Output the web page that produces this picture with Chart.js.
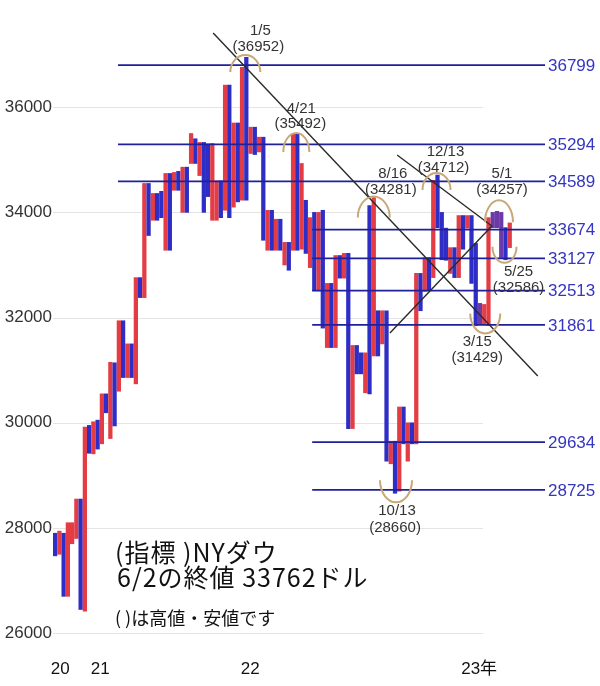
<!DOCTYPE html>
<html>
<head>
<meta charset="utf-8">
<script src="https://cdn.jsdelivr.net/npm/chart.js@4/dist/chart.umd.min.js"></script>
<style>
  body { margin: 0; background: #fff; }
</style>
</head>
<body>
<canvas id="dowChart" width="600" height="686"></canvas>
<script>
// bars from left to right (late 2020 .. 6/2 2023): low, high, colour
const barLow = [
  27470, 27500, 26700, 26700, 27700, 27800, 26450, 26420, 29420, 29410,
  29500, 29600, 30190, 29700, 29940, 30600, 30860, 30860, 30860, 30740,
  32380, 32380, 33560, 33850, 33850, 33900, 33280, 33280, 34420, 34420,
  34000, 34000, 34930, 34930, 34700, 34000, 34300, 33850, 33850, 33900,
  34040, 33900, 34100, 34200, 34230, 34230, 35120, 35100, 35150, 33470,
  33280, 33280, 33280, 33280, 33000, 32900, 33280, 33280, 33300, 33220,
  32950, 32510, 32510, 31800, 31430, 31430, 31430, 32750, 32750, 29890,
  29890, 30930, 30930, 30570, 30550, 31270, 31270, 31500, 29270, 29220,
  28660, 28700, 29600, 29270, 29600, 29600, 32130, 32500, 32510, 32760,
  33710, 33100, 33090, 32840, 32760, 32760, 33300, 33700, 32650, 31850,
  31870, 31870, 31850, 33710, 33710, 33140, 33100, 33330
];
const barHigh = [
  27900, 27940, 27900, 28100, 28100, 28550, 28550, 29920, 29950, 30020,
  30050, 30550, 30550, 31150, 31140, 31940, 31940, 31500, 31500, 32760,
  32760, 34550, 34550, 34360, 34360, 34400, 34740, 34740, 34760, 34780,
  34860, 34860, 35500, 35400, 35330, 35330, 35300, 35310, 34600, 34600,
  36420, 36420, 35700, 35700, 36760, 36950, 35620, 35620, 35430, 35430,
  34040, 34040, 33870, 33870, 33430, 33430, 35490, 35490, 34930, 34230,
  33900, 34000, 34000, 34040, 32650, 32650, 33180, 33180, 33220, 33220,
  31470, 31470, 31330, 31330, 34130, 34280, 32130, 32130, 32130, 29650,
  29650, 30300, 30300, 30000, 30000, 32840, 32840, 33140, 33140, 34610,
  34710, 34000, 33700, 33330, 33330, 33940, 33940, 33940, 33940, 33410,
  32270, 32250, 33900, 34000, 34020, 34000, 33710, 33800
];
const barColor = [
  'b','r','b','r','r','r','b','r','b','r',
  'b','r','b','r','b','r','b','r','b','r',
  'b','r','b','r','b','b','r','b','r','b',
  'r','b','r','b','r','b','b','r','r','b',
  'r','b','r','b','r','b','r','b','r','b',
  'r','b','r','b','r','b','r','b','r','b',
  'r','b','r','b','r','b','r','b','r','b',
  'r','b','b','r','b','r','b','r','b','r',
  'b','r','b','r','b','r','b','r','b','r',
  'b','b','b','r','b','r','b','r','b','b',
  'p','r','r','p','p','p','b','r'
];

// horizontal levels (right side labels)
const levelValues = [36799, 35294, 34589, 33674, 33127, 32513, 31861, 29634, 28725];
const levelStart = [14.8, 14.8, 14.8, 60.5, 60.5, 60.5, 60.5, 60.5, 60.5];

// trend lines: [start, end] as [bar index, price]
const trendLines = [
  [[37.2, 37411], [113.6, 30890]],
  [[80.5, 35091], [102.8, 33741]],
  [[78.8, 31707], [102.8, 33741]]
];

// marked highs / lows
const noteDates = ['1/5', '4/21', '8/16', '10/13', '12/13', '3/15', '5/1', '5/25'];
const notePrices = [36952, 35492, 34281, 28660, 34712, 31429, 34257, 32586];
const noteIdx = [45, 57, 75, 80, 90, 101, 104, 106];
const noteAt = [36952, 35492, 34281, 28660, 34712, 31870, 34020, 33100];

const yTicks = [26000, 28000, 30000, 32000, 34000, 36000];
const yearTickPos = [1.2, 10.6, 45.9, 99.8];
const yearTickLabels = ['20', '21', '22', '23年'];
const gridEnd = 100.7;

// label / circle placement around each note (px offsets)
const noteStyle = [
  { t1: [14, -26], t2: [12, -10], arc: 'top', c: [-1, 15], r: [15, 17] },
  { t1: [4, -25], t2: [3, -10], arc: 'top', c: [-1, 18], r: [13, 19] },
  { t1: [19, -24], t2: [17, -8], arc: 'top', c: [0, 20], r: [16, 21] },
  { t1: [2, 18], t2: [0, 35], arc: 'bottom', c: [1, -13], r: [16, 22] },
  { t1: [8, -23], t2: [6, -7], arc: 'top', c: [-1, 15], r: [14, 17] },
  { t1: [-7, 17], t2: [-7, 33], arc: 'bottom', c: [1, -11], r: [15, 20] },
  { t1: [5, -37], t2: [5, -21], arc: 'top', c: [2, 11], r: [14, 22] },
  { t1: [13, 12], t2: [13, 28], arc: 'bottom', c: [-1, -13], r: [12, 16] }
];

const colorMap = { r: '#e43c44', b: '#2e2ec6', p: '#6b3aa6' };

const datasets = [];
levelValues.forEach((v, i) => {
  datasets.push({
    type: 'line',
    data: [{ x: levelStart[i], y: v }, { x: 115.3, y: v }],
    borderColor: '#20209a',
    borderWidth: 1.8,
    pointRadius: 0,
    order: 1
  });
});
trendLines.forEach(seg => {
  datasets.push({
    type: 'line',
    data: seg.map(p => ({ x: p[0], y: p[1] })),
    borderColor: '#2a2a2a',
    borderWidth: 1.4,
    pointRadius: 0,
    order: 0
  });
});
datasets.push({
  type: 'bar',
  data: barLow.map((lo, i) => ({ x: i, y: [lo, barHigh[i]] })),
  backgroundColor: barColor.map(c => colorMap[c]),
  barThickness: 3.6,
  order: 2
});

const extras = {
  id: 'extras',
  beforeDatasetsDraw(chart) {
    const { ctx, chartArea, scales: { x, y } } = chart;
    ctx.save();
    ctx.strokeStyle = '#e4e4e4';
    ctx.lineWidth = 1;
    const xe = x.getPixelForValue(gridEnd);
    yTicks.forEach(v => {
      const py = Math.round(y.getPixelForValue(v)) + 0.5;
      ctx.beginPath();
      ctx.moveTo(chartArea.left, py);
      ctx.lineTo(xe, py);
      ctx.stroke();
    });
    ctx.restore();
  },
  afterDatasetsDraw(chart) {
    const { ctx, chartArea, scales: { x, y } } = chart;
    ctx.save();
    // level labels
    ctx.font = '17px "Liberation Sans", Arial, sans-serif';
    ctx.fillStyle = '#3535c0';
    ctx.textAlign = 'left';
    ctx.textBaseline = 'middle';
    levelValues.forEach(v => {
      ctx.fillText(String(v), chartArea.right + 3, y.getPixelForValue(v) + 1);
    });
    // notes
    noteDates.forEach((d, i) => {
      const s = noteStyle[i];
      const px = x.getPixelForValue(noteIdx[i]);
      const py = y.getPixelForValue(noteAt[i]);
      ctx.strokeStyle = '#c9a877';
      ctx.lineWidth = 2;
      ctx.beginPath();
      if (s.arc === 'top') {
        ctx.ellipse(px + s.c[0], py + s.c[1], s.r[0], s.r[1], 0, Math.PI, 2 * Math.PI);
      } else {
        ctx.ellipse(px + s.c[0], py + s.c[1], s.r[0], s.r[1], 0, 0, Math.PI);
      }
      ctx.stroke();
      ctx.fillStyle = '#333';
      ctx.font = '15px "Liberation Sans", Arial, sans-serif';
      ctx.textAlign = 'center';
      ctx.fillText(d, px + s.t1[0], py + s.t1[1]);
      ctx.fillText('(' + notePrices[i] + ')', px + s.t2[0], py + s.t2[1]);
    });
    // caption
    ctx.fillStyle = '#111';
    ctx.textAlign = 'left';
    ctx.font = '25px "Noto Sans CJK JP", sans-serif';
    ctx.letterSpacing = '1px';
    ctx.fillText('(指標 )NYダウ', 115, 552);
    ctx.fillText('6/2の終値 33762ドル', 117, 577);
    ctx.letterSpacing = '0px';
    ctx.font = '18px "Noto Sans CJK JP", sans-serif';
    ctx.fillText('( )は高値・安値です', 115, 618);
    ctx.restore();
  }
};

new Chart(document.getElementById('dowChart'), {
  data: { datasets },
  options: {
    responsive: false,
    animation: false,
    layout: { padding: { top: 2, right: 55, left: 0, bottom: 0 } },
    plugins: { legend: { display: false }, tooltip: { enabled: false } },
    scales: {
      x: {
        type: 'linear',
        offset: false,
        min: -0.5,
        max: 115.3,
        grid: { display: false, drawTicks: false },
        border: { display: false },
        afterFit: s => { s.height = 36; s.paddingLeft = 0; s.paddingRight = 0; },
        afterBuildTicks: s => { s.ticks = yearTickPos.map(v => ({ value: v })); },
        ticks: {
          autoSkip: false,
          maxRotation: 0,
          padding: 9,
          color: '#111',
          font: { size: 17, family: '"Liberation Sans", "Noto Sans CJK JP", sans-serif' },
          callback: (v, i) => yearTickLabels[i]
        }
      },
      y: {
        min: 25680,
        max: 38000,
        grid: { display: false, drawTicks: false },
        border: { display: false },
        afterFit: s => { s.width = 53; s.paddingTop = 0; s.paddingBottom = 0; },
        afterBuildTicks: s => { s.ticks = yTicks.map(v => ({ value: v })); },
        ticks: {
          padding: 1,
          color: '#333',
          font: { size: 17, family: '"Liberation Sans", Arial, sans-serif' },
          callback: v => String(v)
        }
      }
    }
  },
  plugins: [extras]
});
</script>
</body>
</html>
